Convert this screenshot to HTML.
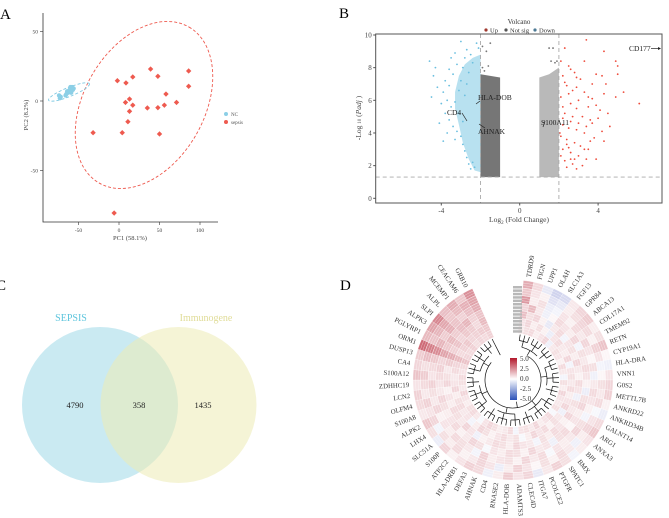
<!DOCTYPE html>
<html><head><meta charset="utf-8"><style>
html,body{margin:0;padding:0;background:#fff;}
svg{display:block;font-family:"Liberation Serif",serif;}
</style></head><body>
<svg id="fig" width="669" height="518" viewBox="0 0 669 518" xmlns="http://www.w3.org/2000/svg">
<g id="pA"></g>
<g id="pB"></g>
<g id="pC"></g>
<g id="pD"></g>
</svg>
<script>
// ---------- Panel A data ----------
const pcaNC = [[-72,3],[-73,2],[-74,4],[-65,5],[-63,6],[-62,7],[-61,8],[-60,9],[-58,10],[-57,8],[-56,9],[-64,7],[-59,6],[-60,10],[-66,4]];
const pcaSepsis = [[-2,14.6],[8.6,13],[17,17.3],[39,23],[48,17.8],[86,21.6],[86,10.6],[58,5],[71,-1],[56,-3],[48,-4.8],[35,-5],[13,1.4],[8,-1],[17,-3],[13,-7.4],[11,-14.9],[-32,-22.8],[4,-22.8],[50,-23.7],[-6,-80.6]];
const pcaXTicks = [-50,0,50,100];
const pcaYTicks = [50,0,-50];
// ---------- Panel B data ----------
const volUp = [[2.1,8.4],[2.3,9.2],[3.4,9.7],[3.3,8.4],[4.3,9.0],[4.9,8.4],[5.0,8.1],[5.0,7.6],[2.5,8.1],[2.6,7.9],[2.2,7.5],[2.8,7.7],[3.1,7.3],[3.7,7.0],[4.2,7.5],[4.4,7.0],[2.4,6.9],[2.9,6.8],[3.3,6.5],[4.3,6.4],[5.3,6.5],[4.9,6.2],[6.1,5.8],[2.1,6.2],[2.6,5.8],[2.9,5.5],[3.5,5.6],[3.9,5.7],[4.5,5.2],[2.3,5.2],[2.7,5.0],[3.2,5.0],[3.6,4.8],[4.0,4.9],[4.6,4.4],[2.2,4.5],[2.5,4.3],[2.9,4.2],[3.3,4.0],[3.8,3.7],[4.2,4.1],[4.3,3.5],[2.1,3.8],[2.4,3.6],[2.8,3.4],[3.1,3.2],[3.5,3.0],[2.2,3.0],[2.6,2.8],[3.0,2.6],[3.4,2.4],[3.9,2.4],[2.3,2.3],[2.7,2.1],[3.2,2.0],[2.4,1.9],[2.9,1.8],[2.1,2.6],[3.6,3.5],[2.5,6.4],[3.0,6.0],[2.2,5.6],[3.7,6.1],[4.1,5.4],[2.6,4.7],[3.4,4.4],[2.05,4.0],[2.8,2.4],[3.3,3.0],[2.5,3.1],[2.3,7.1],[2.7,6.6],[3.5,6.2],[2.2,4.9],[3.0,4.6],[2.4,3.3],[3.7,4.6],[2.6,2.4],[2.9,7.4],[3.9,7.6]];
const volDown = [[-4.6,8.4],[-4.5,6.2],[-4.3,8.0],[-4.4,7.5],[-3.9,3.5],[-3.0,9.6],[-2.2,9.5],[-2.1,9.2],[-3.5,8.6],[-3.2,8.2],[-2.8,8.6],[-2.5,8.8],[-3.8,7.2],[-3.6,6.9],[-3.4,7.6],[-3.9,6.5],[-3.7,6.0],[-3.5,5.6],[-3.8,5.2],[-3.6,4.8],[-3.4,4.4],[-3.3,5.9],[-3.1,6.6],[-3.0,7.2],[-3.2,4.1],[-3.0,3.8],[-2.9,3.3],[-2.8,2.9],[-2.7,2.5],[-2.6,2.1],[-2.5,1.8],[-2.4,2.2],[-2.3,1.9],[-3.1,5.2],[-2.9,4.7],[-2.8,6.3],[-2.7,7.0],[-2.6,7.7],[-2.9,8.0],[-2.4,8.3],[-4.1,4.6],[-4.0,5.8],[-3.7,4.0],[-3.3,3.6],[-4.2,6.8],[-3.6,7.9],[-3.3,8.9],[-2.7,9.1]];
const volDownDense = [[-2,1.6],[-2.3,1.7],[-2.6,2.4],[-2.9,3.4],[-3.1,4.5],[-3.3,5.5],[-3.3,6.5],[-3.1,7.5],[-2.8,8.2],[-2.4,8.6],[-2.0,8.8]];
const volNsLeft = [[-2,1.3],[-1,1.3],[-1,7.4],[-1.5,7.5],[-2,7.6]];
const volNsRight = [[1,1.3],[2,1.3],[2,8.0],[1.5,7.6],[1,7.4]];
const volNsPts = [[-1.9,8.0],[-1.8,7.8],[-1.6,8.1],[-1.5,9.5],[-1.9,9.3],[-1.7,9.0],[1.5,9.2],[1.7,9.2],[1.9,8.4],[1.8,8.3],[1.6,8.4]];
const volXTicks = [-4,0,4];
const volYTicks = [0,2,4,6,8,10];
// ---------- Panel C data ----------
const vennSets = ["SEPSIS","Immunogene"];
const vennCounts = [4790,358,1435];
// ---------- Panel D data ----------
const hmGenes = ["TDRD9","FIGN","UPP1","OLAH","SLC1A3","FGF13","GPR84","ABCA13","COL17A1","TMEM92","RETN","CYP19A1","HLA-DRA","VNN1","G0S2","METTL7B","ANKRD22","ANKRD34B","GALNT14","ARG1","ANXA3","BPI","BMX","SPATC1","PTGFR","PCOLCE2","ITGA7","CLEC4D","ADAMTS3","HLA-DOB","RNASE2","CD4","AHNAK","DEFA3","HLA-DRB1","ATP2C2","S100P","SLC51A","LHX4","ALPK2","S100A8","OLFM4","LCN2","ZDHHC19","S100A12","CA4","DUSP13","ORM1","PGLYRP1","ALPK3","SLPI","ALPL","MCEMP1","CEACAM6","GRB10"];
const hmRow0 = [1.8,0.8,-0.6,-1.2,-1.0,0.5,0.9,1.1,0.4,0.7,1.3,0.2,-0.4,0.6,0.9,1.0,0.3,-0.5,0.8,1.2,0.6,0.4,-0.3,0.7,1.0,0.5,-0.6,0.9,0.6,1.1,0.4,-0.4,0.8,1.0,0.6,0.3,0.9,-0.5,0.7,1.2,0.5,0.8,1.0,0.6,1.3,0.9,1.1,3.2,1.5,2.0,2.6,1.4,1.8,1.2,2.4];
const hmRow1 = [1.2,0.6,0.3,-0.8,-0.6,0.4,0.7,0.9,0.8,0.3,1.0,0.6,-0.3,0.2,0.7,0.5,0.8,-0.2,0.6,0.9,0.4,-0.4,0.5,0.8,0.3,0.7,0.2,0.6,1.0,0.4,-0.5,0.6,0.9,0.5,0.3,0.8,0.4,0.7,-0.3,0.9,0.6,1.0,0.5,0.8,1.1,0.7,1.4,2.8,1.3,1.6,1.9,1.2,1.5,1.7,2.0];
const hmRow2 = [2.2,0.4,0.7,-0.5,-0.3,0.6,0.3,0.8,0.5,0.9,0.6,0.2,0.7,-0.4,0.5,0.8,0.6,0.3,-0.3,0.7,0.9,0.5,0.4,0.6,-0.2,0.8,0.5,0.9,0.3,0.7,0.6,0.4,1.0,-0.3,0.5,0.7,0.8,0.4,0.6,0.3,0.9,0.5,0.7,1.0,0.6,0.8,1.2,2.5,1.6,1.1,1.7,1.3,1.0,1.4,1.8];
const hmRow3 = [0.9,1.5,0.5,-0.4,0.2,0.8,0.6,0.4,0.9,-0.3,0.7,0.5,0.8,0.6,0.3,-0.5,0.7,0.9,0.4,0.6,0.2,0.8,0.7,-0.4,0.6,0.5,0.9,0.3,0.7,0.8,0.4,0.6,-0.2,0.7,0.9,0.5,0.3,0.8,0.6,0.4,0.7,0.9,0.5,0.6,0.8,1.0,0.9,2.0,1.2,1.5,1.1,1.4,1.6,1.0,1.3];
const hmRow4 = [1.4,0.7,0.9,0.3,-0.6,0.5,0.8,-0.3,0.6,0.7,0.4,0.9,0.5,0.3,0.8,0.6,-0.4,0.7,0.5,0.9,0.3,0.6,0.8,0.4,0.7,-0.3,0.5,0.6,0.9,0.4,0.7,0.8,0.5,0.3,-0.4,0.6,0.9,0.5,0.7,0.8,0.4,0.6,0.3,0.9,0.7,0.5,1.1,1.8,1.0,1.3,0.9,1.2,1.1,0.8,1.5];
const hmRow5 = [0.6,0.9,0.4,0.7,0.3,-0.5,0.6,0.8,0.5,0.4,0.9,-0.3,0.6,0.7,0.5,0.8,0.4,0.6,0.9,-0.4,0.5,0.7,0.3,0.8,0.6,0.9,0.4,-0.2,0.7,0.5,0.8,0.6,0.3,0.7,0.9,0.4,-0.3,0.6,0.5,0.8,0.7,0.4,0.9,0.6,0.5,0.8,0.9,1.5,0.8,1.0,1.2,0.9,1.0,1.1,1.2];
const hmRow6 = [0.5,0.7,0.8,0.4,0.6,0.9,-0.4,0.5,0.7,0.6,0.3,0.8,0.5,-0.3,0.7,0.4,0.9,0.6,0.5,0.7,-0.2,0.8,0.6,0.4,0.9,0.5,0.7,0.6,-0.3,0.8,0.5,0.4,0.7,0.9,0.6,-0.2,0.5,0.8,0.7,0.4,0.6,0.9,0.5,0.7,0.8,0.6,0.8,1.3,0.9,0.8,1.0,0.7,0.9,0.8,1.0];
const hmRows = [hmRow0,hmRow1,hmRow2,hmRow3,hmRow4,hmRow5,hmRow6];
const hmLegendTicks = [5.0,2.5,0.0,-2.5,-5.0];

const NS="http://www.w3.org/2000/svg";
function mk(parent,tag,attrs,text){const e=document.createElementNS(NS,tag);for(const k in attrs)e.setAttribute(k,attrs[k]);if(text!==undefined)e.textContent=text;parent.appendChild(e);return e;}

// ================= Panel A =================
(function(){
const g=document.getElementById('pA');
const sx=v=>119+v*0.81, sy=v=>101-v*1.39;
const t=mk(g,'text',{x:0,y:19,'font-size':15});
t.textContent='A';
const ax=mk(g,'path',{d:'M43,13 V222 H218',fill:'none',stroke:'#333','stroke-width':0.8});

pcaXTicks.forEach(v=>{mk(g,'line',{x1:sx(v),x2:sx(v),y1:222,y2:225,stroke:'#333','stroke-width':0.6});
 const l=mk(g,'text',{x:sx(v),y:232,'font-size':5.5,'text-anchor':'middle',fill:'#444'},v);
 });
pcaYTicks.forEach(v=>{mk(g,'line',{x1:40,x2:43,y1:sy(v),y2:sy(v),stroke:'#333','stroke-width':0.6});
 const l=mk(g,'text',{x:38,y:sy(v)+2,'font-size':5.5,'text-anchor':'end',fill:'#444'},v);
 });
const xl=mk(g,'text',{x:130,y:240,'font-size':6.5,'text-anchor':'middle',fill:'#444'},'PC1 (58.1%)');

const yl=mk(g,'text',{x:0,y:0,'font-size':6.5,'text-anchor':'middle',fill:'#444',transform:'translate(28,115) rotate(-90)'},'PC2 (8.2%)');

const e1=mk(g,'ellipse',{cx:144,cy:105,rx:90,ry:60,transform:'rotate(-60 144 105)',fill:'none',stroke:'#ee5a4f','stroke-width':0.9,'stroke-dasharray':'3,2'});

const e2=mk(g,'ellipse',{cx:69,cy:92,rx:22,ry:4.5,transform:'rotate(-22 69 92)',fill:'none',stroke:'#7fc9e2','stroke-width':0.9,'stroke-dasharray':'3,2'});

pcaNC.forEach(p=>{const c=mk(g,'circle',{cx:sx(p[0]),cy:sy(p[1]),r:2.2,fill:'#8ccfe6'});
 });
pcaSepsis.forEach(p=>{const c=mk(g,'rect',{x:sx(p[0])-1.9,y:sy(p[1])-1.9,width:3.8,height:3.8,fill:'#ee5a4f',transform:`rotate(45 ${sx(p[0])} ${sy(p[1])})`});
 });
const lg=mk(g,'g',{});
mk(lg,'circle',{cx:226,cy:114,r:2,fill:'#8ccfe6'});mk(lg,'text',{x:231,y:116,'font-size':5,fill:'#555'},'NC');
mk(lg,'circle',{cx:226,cy:122,r:2,fill:'#ee5a4f'});mk(lg,'text',{x:231,y:124,'font-size':5,fill:'#555'},'sepsis');
})();

// ================= Panel B =================
(function(){
const g=document.getElementById('pB');
const L=375.7,R=662,T=34,B=203;
const sx=v=>519.7+v*19.6, sy=v=>198.3-v*16.33;
const t=mk(g,'text',{x:339,y:18,'font-size':15},'B');

const tt=mk(g,'text',{x:519,y:24,'font-size':7,'text-anchor':'middle',fill:'#333'},'Volcano');

[['Up','#a0392f',486],['Not sig','#555',506],['Down','#4d7a95',535]].forEach(e=>{
 const lg=mk(g,'g',{});
 mk(lg,'circle',{cx:e[2],cy:30,r:1.6,fill:e[1]});mk(lg,'text',{x:e[2]+4,y:32.3,'font-size':6.5,fill:'#333'},e[0]);});
const clip=mk(g,'clipPath',{id:'volclip'});mk(clip,'rect',{x:L,y:T,width:R-L,height:B-T});
const pg=mk(g,'g',{'clip-path':'url(#volclip)'});
const poly=(pts,fill,op,name)=>{const p=mk(pg,'polygon',{points:pts.map(q=>sx(q[0])+','+sy(q[1])).join(' '),fill:fill,opacity:op});
 };
poly(volDownDense,'#7ec8e3',0.55,'down-density-region');
poly(volNsLeft,'#767676',1,'not-sig-density-left');
poly(volNsRight,'#8a8a8a',0.6,'not-sig-density-right');
volNsPts.forEach(p=>{const c=mk(pg,'circle',{cx:sx(p[0]),cy:sy(p[1]),r:0.9,fill:'#777'});});
volDown.forEach(p=>{const c=mk(pg,'circle',{cx:sx(p[0]),cy:sy(p[1]),r:0.9,fill:'#6bbfdf'});});
volUp.forEach(p=>{const c=mk(pg,'circle',{cx:sx(p[0]),cy:sy(p[1]),r:0.9,fill:'#ee4a3a'});});
[[-2],[2]].forEach(v=>{const l=mk(g,'line',{x1:sx(v[0]),x2:sx(v[0]),y1:T,y2:B,stroke:'#aaa','stroke-width':0.9,'stroke-dasharray':'4,3'});});
const hl=mk(g,'line',{x1:L,x2:R,y1:sy(1.3),y2:sy(1.3),stroke:'#aaa','stroke-width':0.9,'stroke-dasharray':'4,3'});
const box=mk(g,'rect',{x:L,y:T,width:R-L,height:B-T,fill:'none',stroke:'#555','stroke-width':1});
volXTicks.forEach(v=>{mk(g,'line',{x1:sx(v),x2:sx(v),y1:B,y2:B+2.5,stroke:'#555'});
 const l=mk(g,'text',{x:sx(v),y:B+10,'font-size':7,'text-anchor':'middle',fill:'#444'},v);});
volYTicks.forEach(v=>{mk(g,'line',{x1:L-2.5,x2:L,y1:sy(v),y2:sy(v),stroke:'#555'});
 const l=mk(g,'text',{x:L-4,y:sy(v)+2.5,'font-size':7,'text-anchor':'end',fill:'#444'},v);});
const xl=mk(g,'text',{x:519,y:222,'font-size':7.5,'text-anchor':'middle',fill:'#444'});xl.innerHTML='Log<tspan font-size="5" dy="2">2</tspan><tspan dy="-2"> (Fold Change)</tspan>';

const yl=mk(g,'text',{'font-size':7.5,'text-anchor':'middle',fill:'#444',transform:'translate(361,118) rotate(-90)'});yl.innerHTML='-Log <tspan font-size="5">10</tspan> (<tspan font-style="italic">Padj</tspan> )';

[['HLA-DOB',478,100,[480,101,476,104]],['CD4',447,115,[462,113,467,121]],['AHNAK',478,134,[485,128,479,124]],['S100A11',541,125,[545,121,543,127]]].forEach(a=>{
 const lab=mk(g,'text',{x:a[1],y:a[2],'font-size':7.5,fill:'#222'},a[0]);
 mk(g,'line',{x1:a[3][0],y1:a[3][1],x2:a[3][2],y2:a[3][3],stroke:'#222','stroke-width':0.7});});
const cd=mk(g,'text',{x:629,y:51,'font-size':7.5,fill:'#222'},'CD177');
mk(g,'line',{x1:651,y1:48.5,x2:658,y2:48.5,stroke:'#222','stroke-width':0.7});mk(g,'polygon',{points:'658,47 661,48.5 658,50',fill:'#222'});
})();

// ================= Panel C =================
(function(){
const g=document.getElementById('pC');
const t=mk(g,'text',{x:-4,y:290,'font-size':15},'C');
const c1=mk(g,'circle',{cx:100,cy:405,r:78,fill:'#9fd8e8',opacity:0.55});
const c2=mk(g,'circle',{cx:178.5,cy:405,r:78,fill:'#ecebb5',opacity:0.55});
const l1=mk(g,'text',{x:71,y:321,'font-size':10,'text-anchor':'middle',fill:'#5ec5dd'},vennSets[0]);
const l2=mk(g,'text',{x:206,y:321,'font-size':10,'text-anchor':'middle',fill:'#e0dc98'},vennSets[1]);
[75,139,203].forEach((x,i)=>{const n=mk(g,'text',{x:x,y:408,'font-size':8.5,'text-anchor':'middle',fill:'#222'},vennCounts[i]);});
})();

// ================= Panel D =================
(function(){
const g=document.getElementById('pD');
const t=mk(g,'text',{x:340,y:290,'font-size':15},'D');
const cx=513,cy=380,R0=47,R1=100,a0=-84,span=330,n=hmGenes.length;
const rad=d=>d*Math.PI/180;
const pt=(r,a)=>[cx+r*Math.cos(rad(a)),cy+r*Math.sin(rad(a))];
function col(v){v=Math.max(-5,Math.min(5,v));let c;
 if(v>=0){const f=v/5;c=[255-f*(255-178),255-f*(255-24),255-f*(255-43)];}
 else{const f=-v/5;c=[255-f*(255-60),255-f*(255-70),255-f*(255-180)];}
 return 'rgb('+c.map(x=>Math.round(x)).join(',')+')';}
const step=span/n, ringW=(R1-R0)/hmRows.length;
hmRows.forEach((row,ri)=>{
 const rIn=R1-(ri+1)*ringW, rOut=R1-ri*ringW;
 for(let i=0;i<n;i++){
  const v=row[i]===undefined?0.5:row[i];
  const s=a0+i*step,e=s+step;
  const p1=pt(rOut,s),p2=pt(rOut,e),p3=pt(rIn,e),p4=pt(rIn,s);
  const c=mk(g,'path',{d:`M${p1} A${rOut},${rOut} 0 0 1 ${p2} L${p3} A${rIn},${rIn} 0 0 0 ${p4} Z`,fill:col(v),stroke:'#fff','stroke-width':0.25});
  
  
 }});
for(let k=1;k<hmRows.length*3;k++){const r=R0+k*(R1-R0)/(hmRows.length*3);
 const p1=pt(r,a0),p2=pt(r,a0+span);
 mk(g,'path',{d:`M${p1} A${r},${r} 0 1 1 ${p2}`,fill:'none',stroke:'#fff','stroke-width':0.35,opacity:0.8});}
hmGenes.forEach((name,i)=>{const a=a0+(i+0.5)*step;const p=pt(R1+4,a);
 let rot=a,anchor='start';if(Math.cos(rad(a))<0){rot=a+180;anchor='end';}
 const l=mk(g,'text',{x:p[0],y:p[1],'font-size':6.8,'text-anchor':anchor,'dominant-baseline':'middle',fill:'#333',transform:`rotate(${rot} ${p[0]} ${p[1]})`},name);
 });
const dg=mk(g,'g',{fill:'none',stroke:'#111','stroke-width':0.7});
const arc=(r,s,e)=>{const p1=pt(r,s),p2=pt(r,e);mk(dg,'path',{d:`M${p1} A${r},${r} 0 ${e-s>180?1:0} 1 ${p2}`});};
const radial=(r1,r2,a)=>{const p1=pt(r1,a),p2=pt(r2,a);mk(dg,'line',{x1:p1[0],y1:p1[1],x2:p2[0],y2:p2[1]});};
const leaf=i=>a0+(i+0.5)*step;
for(let i=0;i<n;i++)radial(40,R0-1,leaf(i));
for(let i=0;i<n;i+=3){const e=Math.min(i+2,n-1);arc(40,leaf(i),leaf(e));radial(34,40,(leaf(i)+leaf(e))/2);}
for(let i=0;i<n;i+=9){const e=Math.min(i+7,n-1);const m1=(leaf(i)+leaf(Math.min(i+2,n-1)))/2,m2=(leaf(Math.max(e-2,i))+leaf(e))/2;arc(34,m1,m2);radial(28,34,(m1+m2)/2);}
arc(28,leaf(4),leaf(n-5));radial(22,28,(leaf(4)+leaf(n-5))/2);
const sg=mk(g,'g',{});
for(let k=0;k<14;k++)mk(sg,'rect',{x:513,y:286+k*3.4,width:9,height:2.5,fill:'#b8b8b8'});
const defs=mk(g,'defs',{});const lgd=mk(defs,'linearGradient',{id:'hmgrad',x1:0,y1:0,x2:0,y2:1});
[['0','#b2182b'],['0.5','#ffffff'],['1','#2c52b8']].forEach(s=>mk(lgd,'stop',{offset:s[0],'stop-color':s[1]}));
const bar=mk(g,'rect',{x:510,y:358,width:7,height:42,fill:'url(#hmgrad)'});
hmLegendTicks.forEach((v,i)=>{const l=mk(g,'text',{x:520,y:361+i*10,'font-size':7,fill:'#333'},v.toFixed(1));});
})();
</script>
</body></html>
